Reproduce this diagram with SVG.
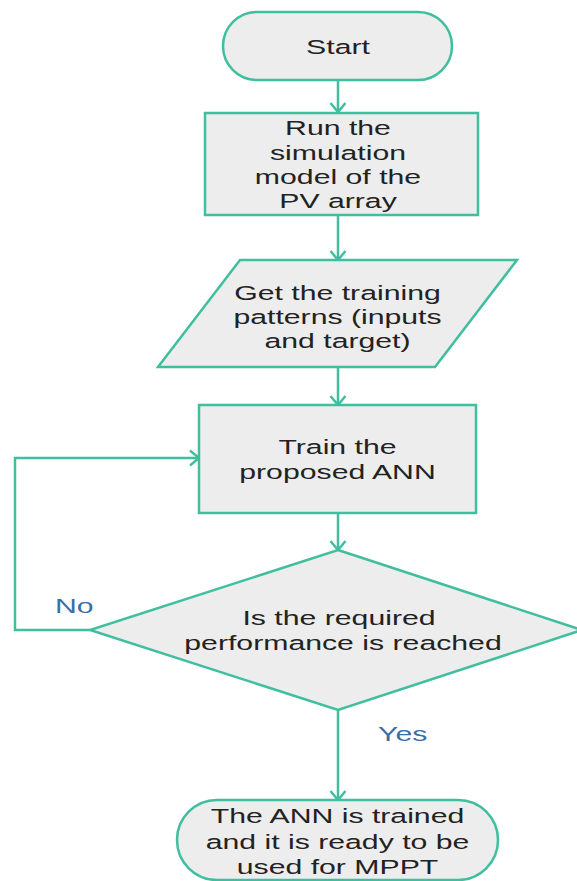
<svg xmlns="http://www.w3.org/2000/svg" width="577" height="881" viewBox="0 0 577 881">
  <style>
    .shape { fill: #ededed; stroke: #3fbf9f; stroke-width: 2.5; }
    .conn { fill: none; stroke: #3fbf9f; stroke-width: 2.5; }
    .t { font-family: "Liberation Sans", Arial, sans-serif; font-size: 19.5px; fill: #222222; text-anchor: middle; }
    .lbl { font-family: "Liberation Sans", Arial, sans-serif; font-size: 19.5px; fill: #3a6ea8; }
  </style>
  <defs>
    <marker id="arr" markerUnits="userSpaceOnUse" markerWidth="24" markerHeight="24" refX="12" refY="12" orient="auto" viewBox="0 0 24 24">
      <path d="M3,4.5 L12,12 L3,19.5" fill="none" stroke="#3fbf9f" stroke-width="2.5"/>
    </marker>
  </defs>
  <rect width="577" height="881" fill="#ffffff"/>

  <g id="connectors">
    <line class="conn" x1="338" y1="80" x2="338" y2="112" marker-end="url(#arr)"/>
    <line class="conn" x1="338" y1="215" x2="338" y2="260" marker-end="url(#arr)"/>
    <line class="conn" x1="338" y1="367" x2="338" y2="405" marker-end="url(#arr)"/>
    <line class="conn" x1="338" y1="513" x2="338" y2="550" marker-end="url(#arr)"/>
    <line class="conn" x1="338" y1="710" x2="338" y2="800" marker-end="url(#arr)"/>
    <polyline class="conn" points="90,630 15,630 15,458 199,458" marker-end="url(#arr)"/>
    <text class="lbl" transform="translate(55 613) scale(1.55 1)">No</text>
    <text class="lbl" transform="translate(378 741) scale(1.55 1)">Yes</text>
  </g>

  <g id="start">
    <rect class="shape" x="223" y="12" width="229" height="68" rx="34" ry="34"/>
    <text class="t" transform="translate(338 54) scale(1.55 1)">Start</text>
  </g>

  <g id="run-simulation">
    <rect class="shape" x="205" y="113" width="273" height="102"/>
    <text class="t" transform="translate(338 135) scale(1.55 1)">Run the</text>
    <text class="t" transform="translate(338 159.5) scale(1.55 1)">simulation</text>
    <text class="t" transform="translate(338 184) scale(1.55 1)">model of the</text>
    <text class="t" transform="translate(338 208) scale(1.55 1)">PV array</text>
  </g>

  <g id="get-patterns">
    <polygon class="shape" points="240,260 517,260 435,367 158,367"/>
    <text class="t" transform="translate(337.5 300) scale(1.55 1)">Get the training</text>
    <text class="t" transform="translate(337.5 324) scale(1.55 1)">patterns (inputs</text>
    <text class="t" transform="translate(337.5 348) scale(1.55 1)">and target)</text>
  </g>

  <g id="train">
    <rect class="shape" x="199" y="405" width="277" height="108"/>
    <text class="t" transform="translate(337.5 454) scale(1.55 1)">Train the</text>
    <text class="t" transform="translate(337.5 479) scale(1.55 1)">proposed ANN</text>
  </g>

  <g id="decision">
    <polygon class="shape" points="338,550 582,630 338,710 90,630"/>
    <text class="t" transform="translate(339 625) scale(1.55 1)">Is the required</text>
    <text class="t" transform="translate(343 650) scale(1.55 1)">performance is reached</text>
  </g>

  <g id="end">
    <rect class="shape" x="177" y="800" width="321" height="80" rx="40" ry="40"/>
    <text class="t" transform="translate(337.5 823) scale(1.55 1)">The ANN is trained</text>
    <text class="t" transform="translate(337.5 849) scale(1.55 1)">and it is ready to be</text>
    <text class="t" transform="translate(337.5 874) scale(1.55 1)">used for MPPT</text>
  </g>
</svg>
